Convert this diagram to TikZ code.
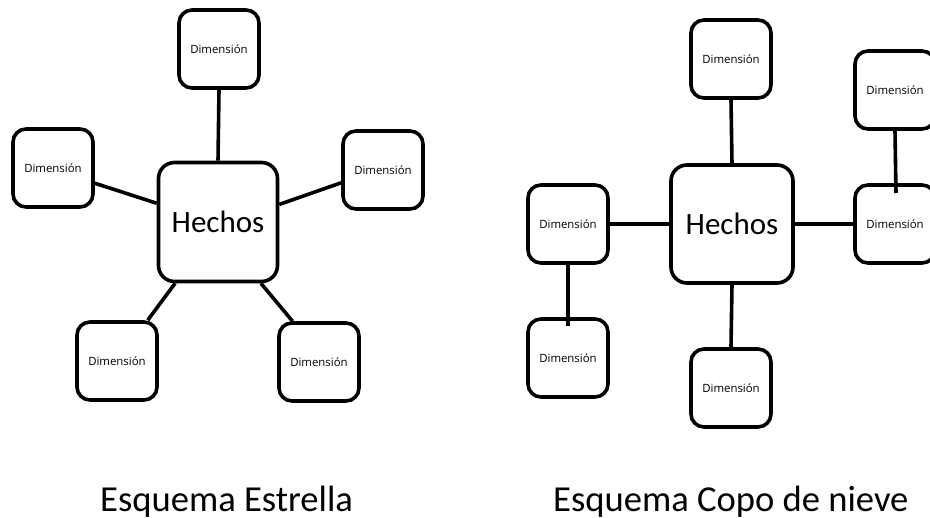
\documentclass[tikz,border=0pt]{standalone}
\usepackage{fontspec}
\setmainfont{Carlito}
\newfontfamily\dimfont{Open Sans}
\begin{document}
\begin{tikzpicture}[x=1pt,y=-1pt,
  box/.style={draw=black,line width=3.6pt,rounded corners=13pt,fill=white,inner sep=0pt},
  dimbox/.style={box,minimum width=80pt,minimum height=78pt,font=\dimfont\fontsize{11.4}{13}\selectfont},
  factbox/.style={box,minimum width=119pt,minimum height=119pt,rounded corners=16pt,font=\fontsize{31}{35}\selectfont},
  link/.style={line width=3.6pt},
  title/.style={font=\fontsize{36.6}{40}\selectfont,inner sep=0pt,anchor=base west}]
\clip (0,0) rectangle (930,518);
\fill[white] (0,0) rectangle (930,518);
% Star schema
\node[factbox] (H1) at (218,222) {Hechos};
\node[dimbox] (T1) at (219,49) {Dimensión};
\node[dimbox] (L1) at (53,168) {Dimensión};
\node[dimbox] (R1) at (383,170) {Dimensión};
\node[dimbox] (BL1) at (117,361) {Dimensión};
\node[dimbox] (BR1) at (319,362) {Dimensión};
\draw[link] (T1.south) -- (H1.north);
\draw[link] (L1.340) -- (H1.163.6);
\draw[link] (R1.197) -- (H1.16.4);
\draw[link] (BL1.53.8) -- (H1.235.3);
\draw[link] (BR1.123.4) -- (H1.305.4);
\node[title] (S1) at (100,512) {Esquema Estrella};
% Snowflake schema
\node[factbox,minimum width=122pt,minimum height=118pt] (H2) at (732,224) {Hechos};
\node[dimbox] (T2) at (731,59) {Dimensión};
\node[dimbox] (RT2) at (895,90) {Dimensión};
\node[dimbox] (R2) at (895,224) {Dimensión};
\node[dimbox] (L2) at (568,224) {Dimensión};
\node[dimbox] (BL2) at (568,358) {Dimensión};
\node[dimbox] (B2) at (731,388) {Dimensión};
\coordinate (RTend) at (896,193);
\coordinate (Lend) at (568,326);
\draw[link] (T2.south) -- (H2.north);
\draw[link] (H2.south) -- (B2.north);
\draw[link] (L2.east) -- (H2.west);
\draw[link] (H2.east) -- (R2.west);
\draw[link] (L2.south) -- (Lend);
\draw[link] (RT2.south) -- (RTend);
\node[title] (S2) at (553,512) {Esquema Copo de nieve};
\end{tikzpicture}
\end{document}
